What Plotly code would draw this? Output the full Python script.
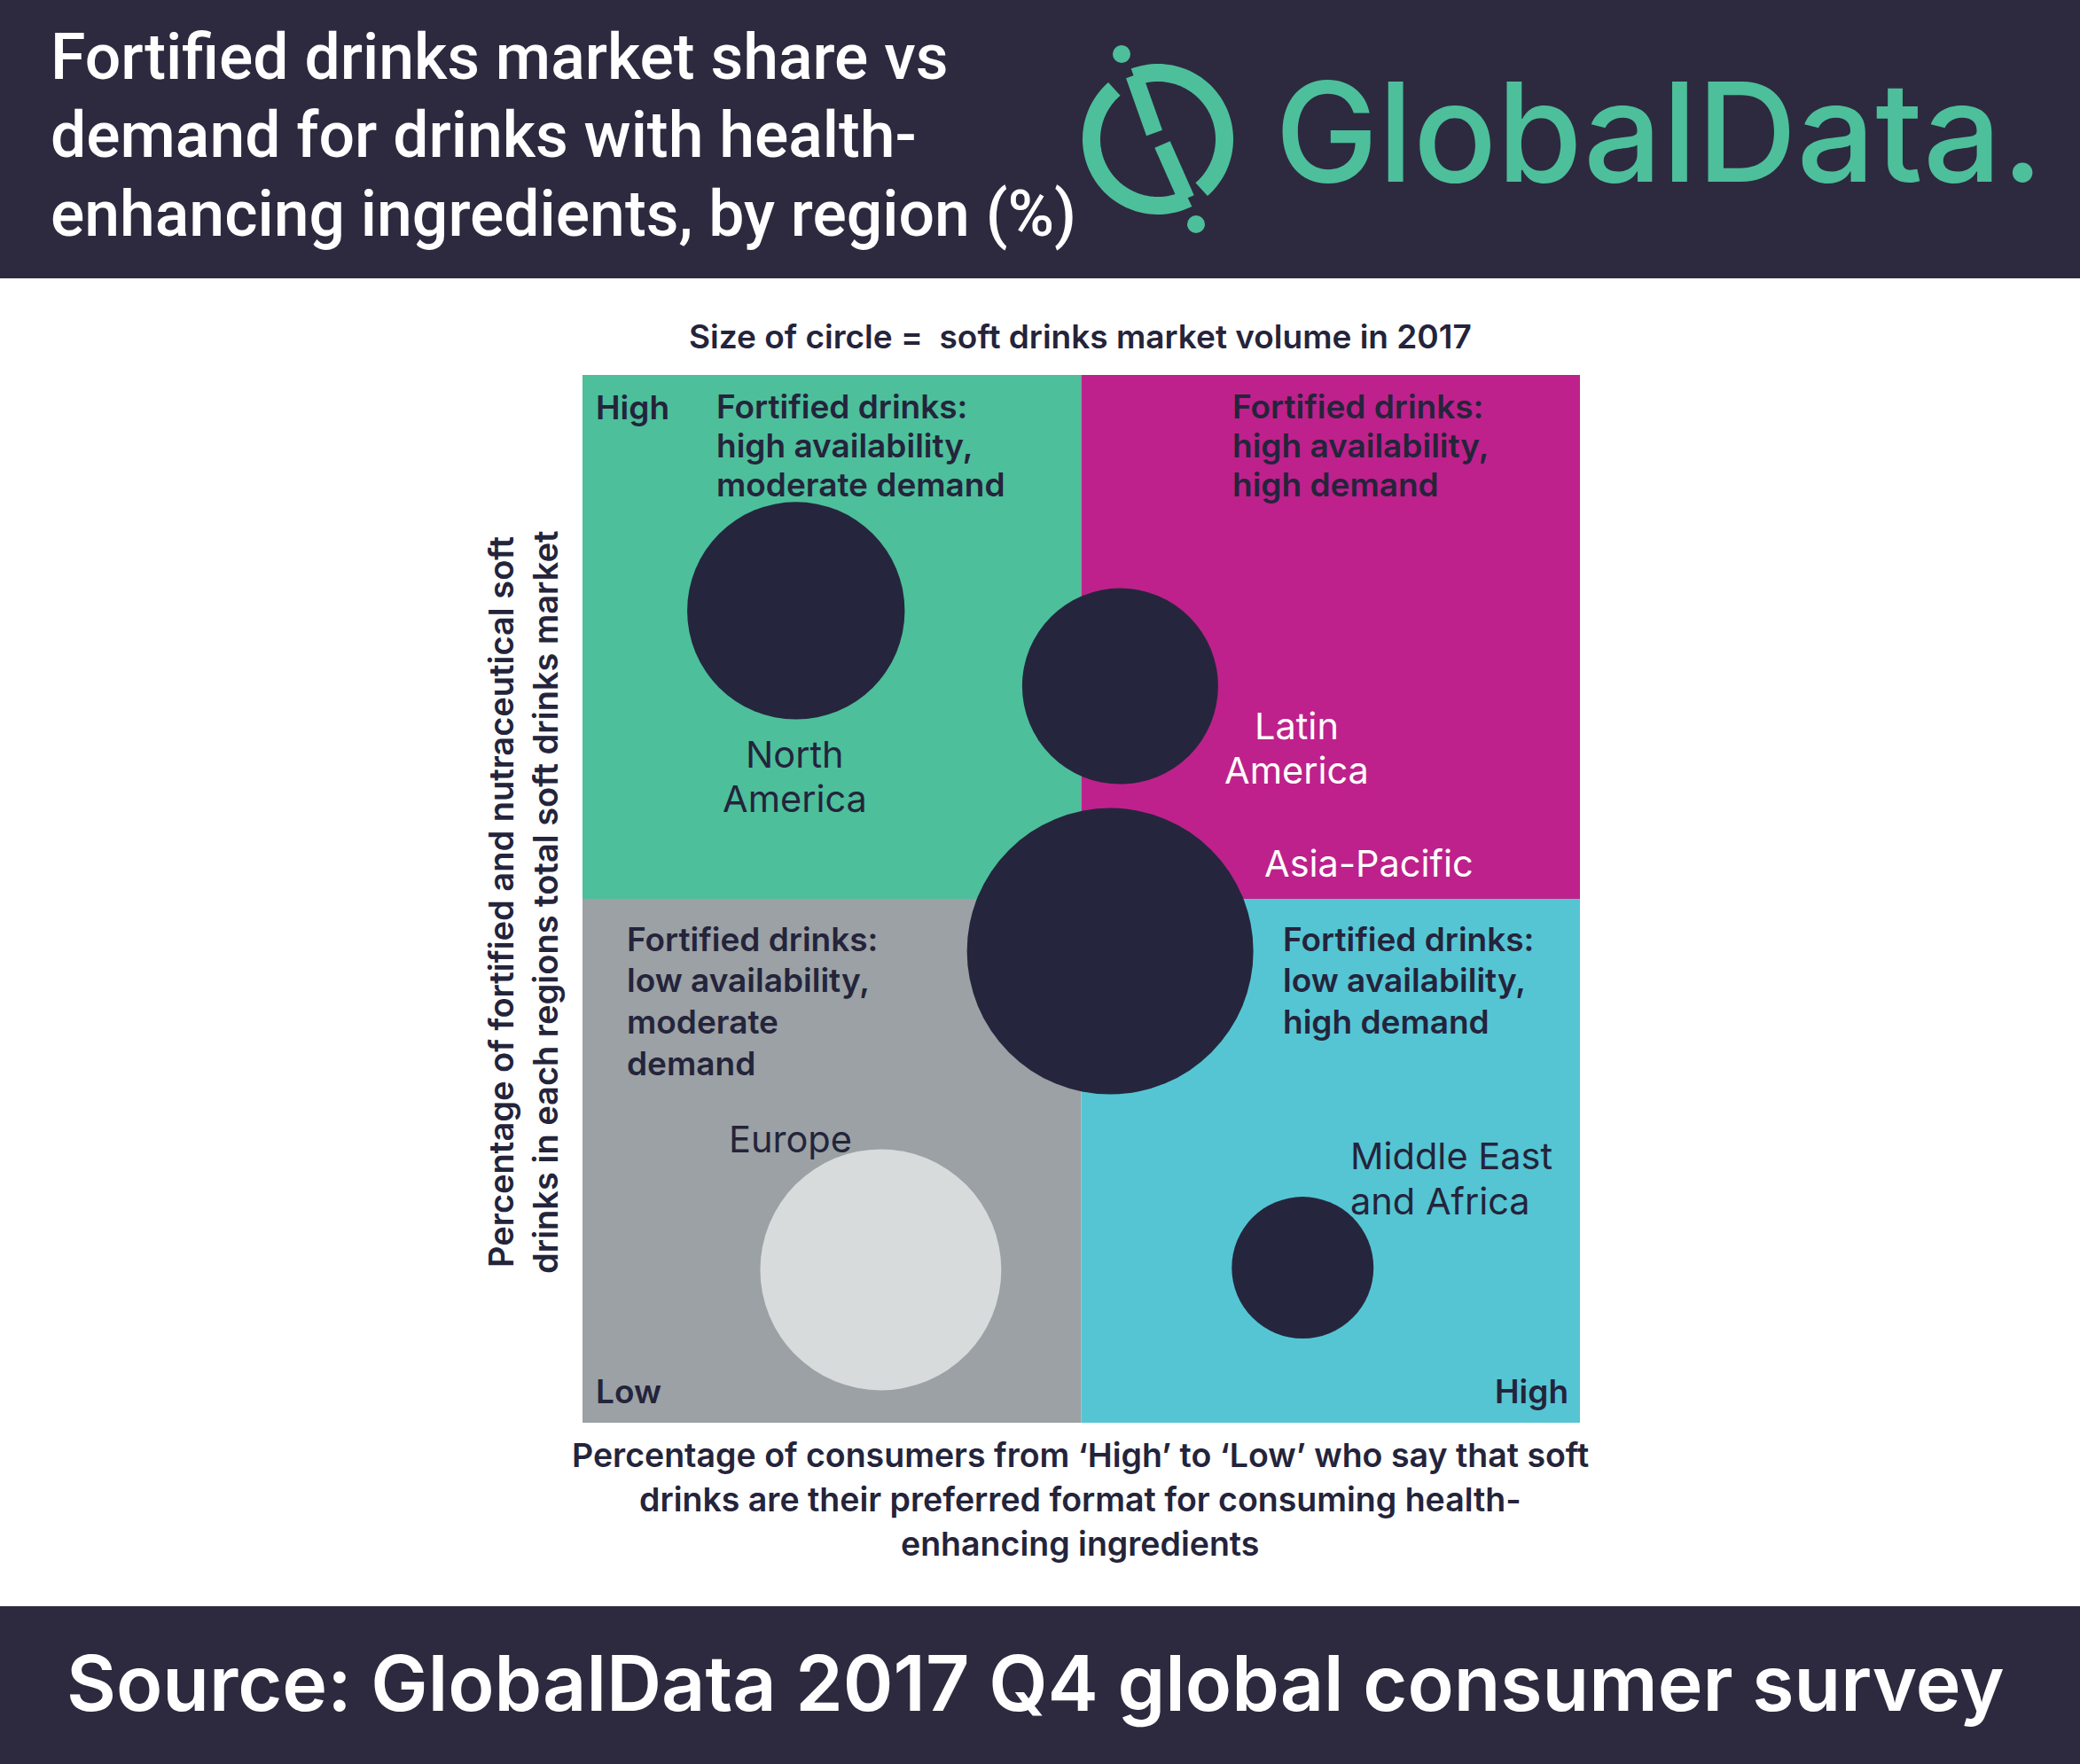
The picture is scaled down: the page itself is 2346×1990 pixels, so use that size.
import math
import plotly.graph_objects as go

W, H = 2346, 1990
FONT = "Inter"

# data
regions = ["North America", "Latin America", "Asia-Pacific", "Europe", "Middle East and Africa"]
pref_format = [21.4, 53.9, 52.9, 29.9, 72.2]        # x: consumers preferring soft drinks (index, low -> high)
fortified_share = [77.5, 70.3, 45.0, 14.6, 14.8]    # y: fortified/nutraceutical share of soft drinks (index)
volume_2017 = [60, 48.7, 104, 73.7, 25.5]           # bubble size: soft drinks market volume (relative)
bubble_colors = ["#25263d", "#25263d", "#25263d", "#d7dbdc", "#25263d"]

DARK = "#24243b"
HEADER = "#2d2a3f"
GREEN = "#4dbf9b"
MAGENTA = "#be218b"
GREY = "#9ba1a4"
CYAN = "#55c5d4"

# plot box in pixels
X0, X1, Y0, Y1 = 657, 1782, 423, 1605


def px(x):
    return x / W


def py(y):
    return 1 - y / H


fig = go.Figure()
fig.add_trace(go.Scatter(
    x=pref_format, y=fortified_share, mode="markers", text=regions,
    marker=dict(size=volume_2017, sizemode="area", sizeref=2 * max(volume_2017) / 323 ** 2,
                color=bubble_colors, line=dict(width=0), opacity=1),
    hoverinfo="text", cliponaxis=False,
))

shapes = []
# header / footer bands
shapes.append(dict(type="rect", xref="paper", yref="paper", x0=0, x1=1, y0=py(314), y1=1,
                   fillcolor=HEADER, line=dict(width=0), layer="below"))
shapes.append(dict(type="rect", xref="paper", yref="paper", x0=0, x1=1, y0=0, y1=py(1812),
                   fillcolor=HEADER, line=dict(width=0), layer="below"))
# quadrants
for (a, b, c, d, col) in [(0, 50, 50, 100, GREEN), (50, 100, 50, 100, MAGENTA),
                          (0, 50, 0, 50, GREY), (50, 100, 0, 50, CYAN)]:
    shapes.append(dict(type="rect", xref="x", yref="y", x0=a, x1=b, y0=c, y1=d,
                       fillcolor=col, line=dict(width=0), layer="below"))

# logo mark
cx, cy, r = 1306, 157, 75


def arc(a0, a1, n=60):
    pts = []
    for i in range(n + 1):
        a = math.radians(a0 + (a1 - a0) * i / n)
        pts.append((px(cx + r * math.cos(a)), py(cy - r * math.sin(a))))
    return "M " + " L ".join(f"{x:.5f},{y:.5f}" for x, y in pts)


shapes.append(dict(type="path", xref="paper", yref="paper", path=arc(-49, 111),
                   line=dict(color=GREEN, width=20)))
shapes.append(dict(type="path", xref="paper", yref="paper", path=arc(131, 297),
                   line=dict(color=GREEN, width=20)))
for (ax, ay, bx, by) in [(1279, 85, 1302, 150), (1311, 163, 1338, 224)]:
    shapes.append(dict(type="line", xref="paper", yref="paper", x0=px(ax), y0=py(ay),
                       x1=px(bx), y1=py(by), line=dict(color=GREEN, width=19)))
for (dx, dy) in [(1265, 61), (1349, 253)]:
    shapes.append(dict(type="circle", xref="paper", yref="paper", x0=px(dx - 10), x1=px(dx + 10),
                       y0=py(dy + 10), y1=py(dy - 10), fillcolor=GREEN, line=dict(width=0)))

annotations = []


def label(text, x, base, size, color=DARK, weight=400, xanchor="left", angle=0, family=FONT):
    annotations.append(dict(
        text=text, x=px(x), y=py(base - 0.36 * size) if angle == 0 else py(base),
        xref="paper", yref="paper", xanchor=xanchor, yanchor="middle", showarrow=False,
        textangle=angle, font=dict(family=family, size=size, color=color, weight=weight)))


def block(lines, x, bases, size, color=DARK, weight=400, xanchor="left", family=FONT):
    for t, b in zip(lines, bases):
        label(t, x, b, size, color, weight, xanchor, family=family)


# title and logo text
block(["Fortified drinks market share vs", "demand for drinks with health-",
       "enhancing ingredients, by region (%)"], 55, [90, 178, 267], 71.5, "white", 500, family="Roboto")
label("GlobalData.", 1436, 205, 156, GREEN, 500)

label("Size of circle =  soft drinks market volume in 2017", 1218, 393, 37, DARK, 600, "center")

# quadrant captions
QS = 37
label("High", 670, 473, QS, DARK, 600)
block(["Fortified drinks:", "high availability,", "moderate demand"], 806, [472, 516, 560], QS, DARK, 600)
block(["Fortified drinks:", "high availability,", "high demand"], 1388, [472, 516, 560], QS, DARK, 600)
block(["Fortified drinks:", "low availability,", "moderate", "demand"], 705, [1073, 1119, 1166, 1213], QS, DARK, 600)
block(["Fortified drinks:", "low availability,", "high demand"], 1445, [1073, 1119, 1166], QS, DARK, 600)
label("Low", 670, 1583, QS, DARK, 600)
label("High", 1771, 1583, QS, DARK, 600, "right")

# bubble labels
BS = 41.5
block(["North", "America"], 897, [866, 916], BS, DARK, 400, "center")
block(["Latin", "America"], 1462, [834, 884], BS, "white", 400, "center")
label("Asia-Pacific", 1544, 989, BS, "white", 400, "center")
label("Europe", 892, 1300, BS, DARK, 400, "center")
block(["Middle East", "and Africa"], 1521, [1319, 1370], BS, DARK, 400)

# axis titles
block(["Percentage of consumers from \u2018High\u2019 to \u2018Low\u2019 who say that soft",
       "drinks are their preferred format for consuming health-",
       "enhancing ingredients"], 1218, [1655, 1705, 1755], 37.5, DARK, 600, "center")
label("Percentage of fortified and nutraceutical soft", 565, 1018, 38, DARK, 600, "center", -90)
label("drinks in each regions total soft drinks market", 615, 1018, 38, DARK, 600, "center", -90)

# footer
label("Source: GlobalData 2017 Q4 global consumer survey", 1167, 1930, 86, "white", 600, "center")

fig.update_layout(
    width=W, height=H, margin=dict(l=0, r=0, t=0, b=0),
    paper_bgcolor="white", plot_bgcolor="rgba(0,0,0,0)", showlegend=False,
    xaxis=dict(domain=[px(X0), px(X1)], range=[0, 100], visible=False, fixedrange=True),
    yaxis=dict(domain=[py(Y1), py(Y0)], range=[0, 100], visible=False, fixedrange=True),
    shapes=shapes, annotations=annotations,
)

fig.write_html("out.html", config={"displayModeBar": False},
               post_script="document.body.style.margin='0';")
